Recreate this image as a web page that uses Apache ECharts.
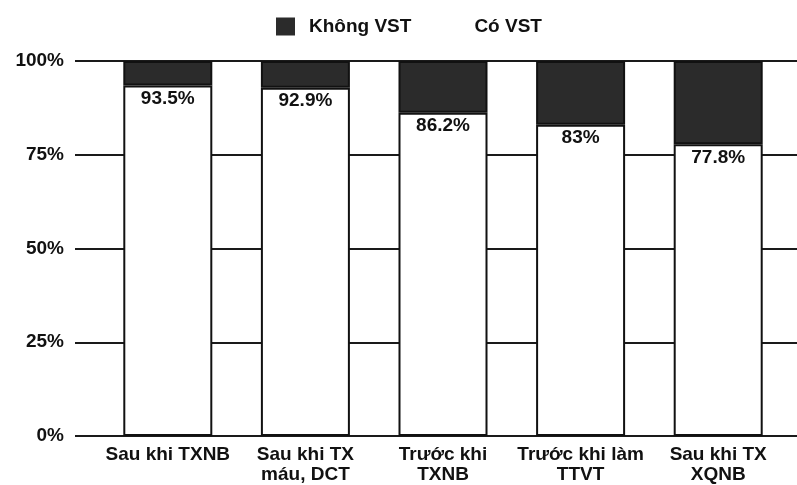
<!DOCTYPE html>
<html>
<head>
<meta charset="utf-8">
<script src="https://cdn.jsdelivr.net/npm/echarts@6/dist/echarts.min.js"></script>
<style>
html,body{margin:0;padding:0;background:#fff;}
#c{width:797px;height:485px;}
</style>
</head>
<body>
<div id="c"></div>
<script>
const categories = ["Sau khi TXNB", "Sau khi TX\nmáu, DCT", "Trước khi\nTXNB", "Trước khi làm\nTTVT", "Sau khi TX\nXQNB"];
const coVST = [93.5, 92.9, 86.2, 83, 77.8];
const khongVST = [6.5, 7.1, 13.8, 17, 22.2];
const yTicks = [0, 25, 50, 75, 100];

const FONT = '"Liberation Sans", Arial, sans-serif';
const chart = echarts.init(document.getElementById('c'));
chart.setOption({
  backgroundColor: '#ffffff',
  animation: false,
  textStyle: { fontFamily: FONT, color: '#111' },
  legend: {
    left: 271, top: 12,
    itemWidth: 19, itemHeight: 18, itemGap: 30,
    textStyle: { fontFamily: FONT, fontSize: 19, fontWeight: 'bold', color: '#111', padding: [0, 0, 0, 9] },
    data: [
      { name: 'Không VST', icon: 'rect', itemStyle: { color: '#2b2b2b', borderWidth: 0 } },
      { name: 'Có VST', icon: 'rect', itemStyle: { color: '#ffffff', borderWidth: 0 } }
    ]
  },
  grid: [
    { left: 75, right: 0, top: 61, bottom: 49 },
    { left: 99, right: 10, top: 61, bottom: 49 }
  ],
  xAxis: [
    { gridIndex: 0, type: 'value', min: 0, max: 1, show: false },
    {
      gridIndex: 1, type: 'category', data: categories,
      axisLine: { show: false }, axisTick: { show: false },
      axisLabel: { interval: 0, margin: 9, fontFamily: FONT, fontSize: 19, fontWeight: 'bold', color: '#111', lineHeight: 20 }
    }
  ],
  yAxis: [
    {
      gridIndex: 0, type: 'value', min: 0, max: 100, interval: 25,
      axisLine: { show: false }, axisTick: { show: false },
      axisLabel: {
        margin: 11, fontFamily: FONT, fontSize: 19, fontWeight: 'bold', color: '#111',
        formatter: v => yTicks.includes(v) ? v + '%' : ''
      },
      splitLine: { show: true, lineStyle: { color: '#1a1a1a', width: 2 } }
    },
    { gridIndex: 1, type: 'value', min: 0, max: 100, show: false }
  ],
  series: [
    {
      name: 'Có VST', type: 'bar', stack: 's', xAxisIndex: 1, yAxisIndex: 1,
      barWidth: 89, data: coVST,
      itemStyle: { color: '#ffffff', borderColor: '#111', borderWidth: 2 },
      label: {
        show: true, position: 'insideTop', distance: 4, formatter: '{c}%',
        fontFamily: FONT, fontSize: 19, fontWeight: 'bold', color: '#111'
      }
    },
    {
      name: 'Không VST', type: 'bar', stack: 's', xAxisIndex: 1, yAxisIndex: 1,
      barWidth: 89, data: khongVST,
      itemStyle: { color: '#2b2b2b', borderColor: '#111', borderWidth: 2 }
    }
  ]
});
</script>
</body>
</html>
